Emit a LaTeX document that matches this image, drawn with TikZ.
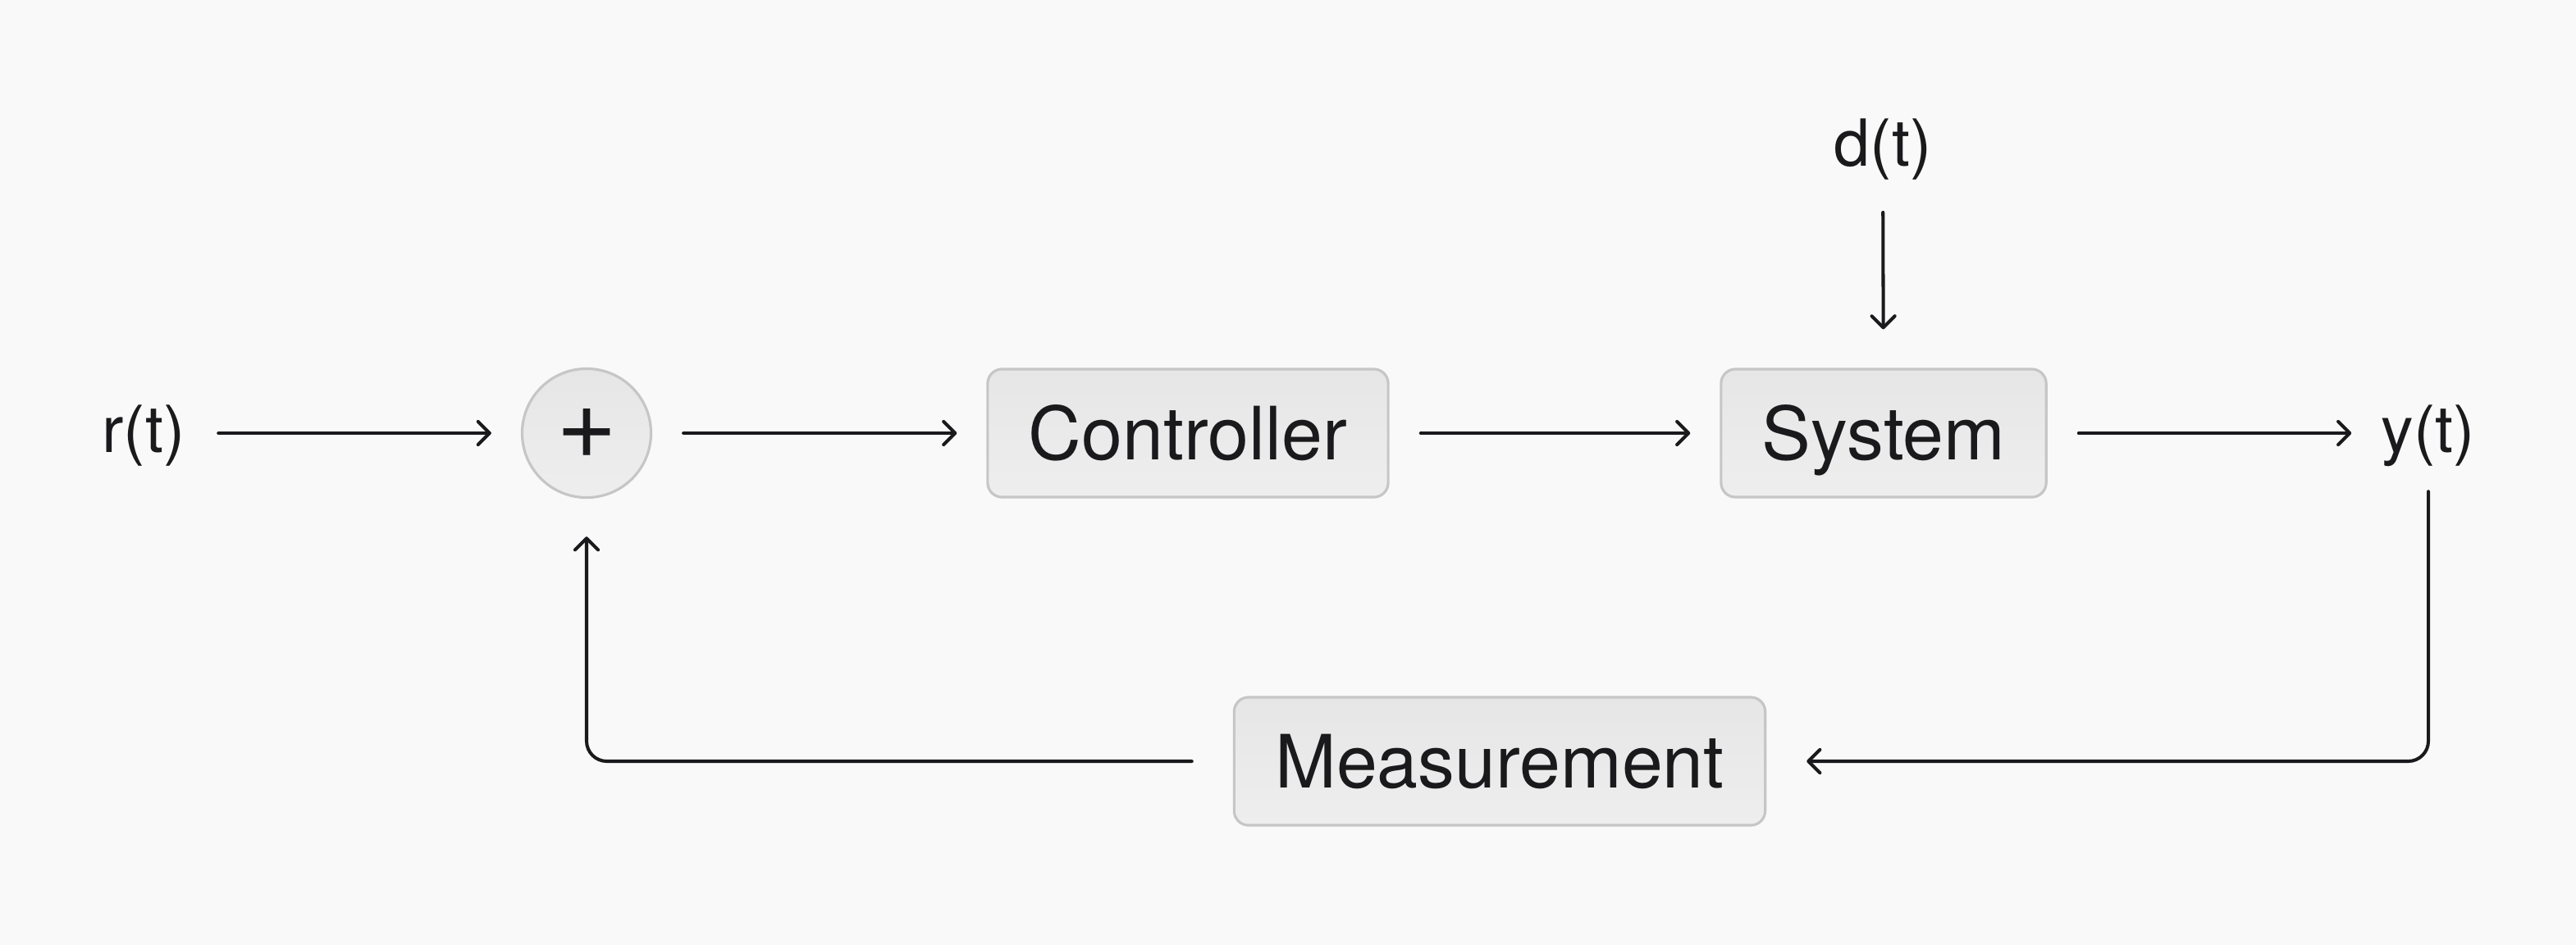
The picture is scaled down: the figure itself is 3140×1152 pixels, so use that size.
\documentclass[tikz,border=0pt]{standalone}
\usepackage{fontspec}
\setmainfont{TeX Gyre Heros}
\usetikzlibrary{arrows.meta}

\definecolor{ink}{HTML}{1A1A1D}
\definecolor{paper}{HTML}{F9F9F9}
\definecolor{boxtop}{HTML}{E6E6E6}
\definecolor{boxbot}{HTML}{EEEEEE}
\definecolor{boxline}{HTML}{C6C6C6}

\tikzset{
  block/.style={draw=boxline, line width=0.9pt, rounded corners=5pt,
    top color=boxtop, bottom color=boxbot, text=ink,
    font=\fontsize{25.5}{30}\selectfont, inner xsep=0.5cm, minimum height=1.56cm,
    text height=23.5pt, text depth=5.1pt},
  sumnode/.style={circle, draw=boxline, line width=0.9pt,
    top color=boxtop, bottom color=boxbot, minimum size=1.57cm, inner sep=0pt,
    text=ink, font=\fontsize{36}{40}\selectfont},
  signal/.style={inner sep=0pt, text=ink, font=\fontsize{22.5}{26}\selectfont},
  sig/.style={draw=ink, line width=1.15pt, line cap=round, rounded corners=7pt,
    -{Straight Barb[length=4pt,width=8pt,line cap=round,line join=round]}},
}

\begin{document}
\begin{tikzpicture}[x=0.01cm, y=-0.01cm]
    % rows of the loop
    \def\fwd{528}
    \def\back{928}

    % background and margins
    \fill[paper] (0,0) rectangle (3140,1152);
    \useasboundingbox (0,0) rectangle (3140,1152);

    % forward path
    \node[signal] (ref) at (175,531) {r(t)};
    \node[sumnode] (sum) at (715,\fwd) {+};
    \node[block] (ctrl) at (1448,\fwd) {Controller};
    \node[block] (plant) at (2296,\fwd) {System};
    \node[signal] (out) at (2960,531) {y(t)};

    % disturbance input
    \node[signal] (dist) at (2295,182) {d(t)};

    % feedback path
    \node[block] (meas) at (1828,\back) {Measurement};

    % connectors
    \draw[sig, shorten <=0.4cm, shorten >=0.36cm] (ref.east |- sum) -- (sum);
    \draw[sig, shorten <=0.38cm, shorten >=0.36cm] (sum) -- (ctrl);
    \draw[sig, shorten <=0.38cm, shorten >=0.36cm] (ctrl) -- (plant);
    \draw[sig, shorten <=0.38cm, shorten >=0.36cm] (plant) -- (out.west |- plant);
    \draw[sig, shorten <=0.39cm, shorten >=0.47cm] (dist) -- (plant);
    \draw[sig, shorten <=0.3cm, shorten >=0.49cm] (out) |- (meas);
    \draw[sig, shorten <=0.5cm, shorten >=0.46cm] (meas) -| (sum);
\end{tikzpicture}
\end{document}
